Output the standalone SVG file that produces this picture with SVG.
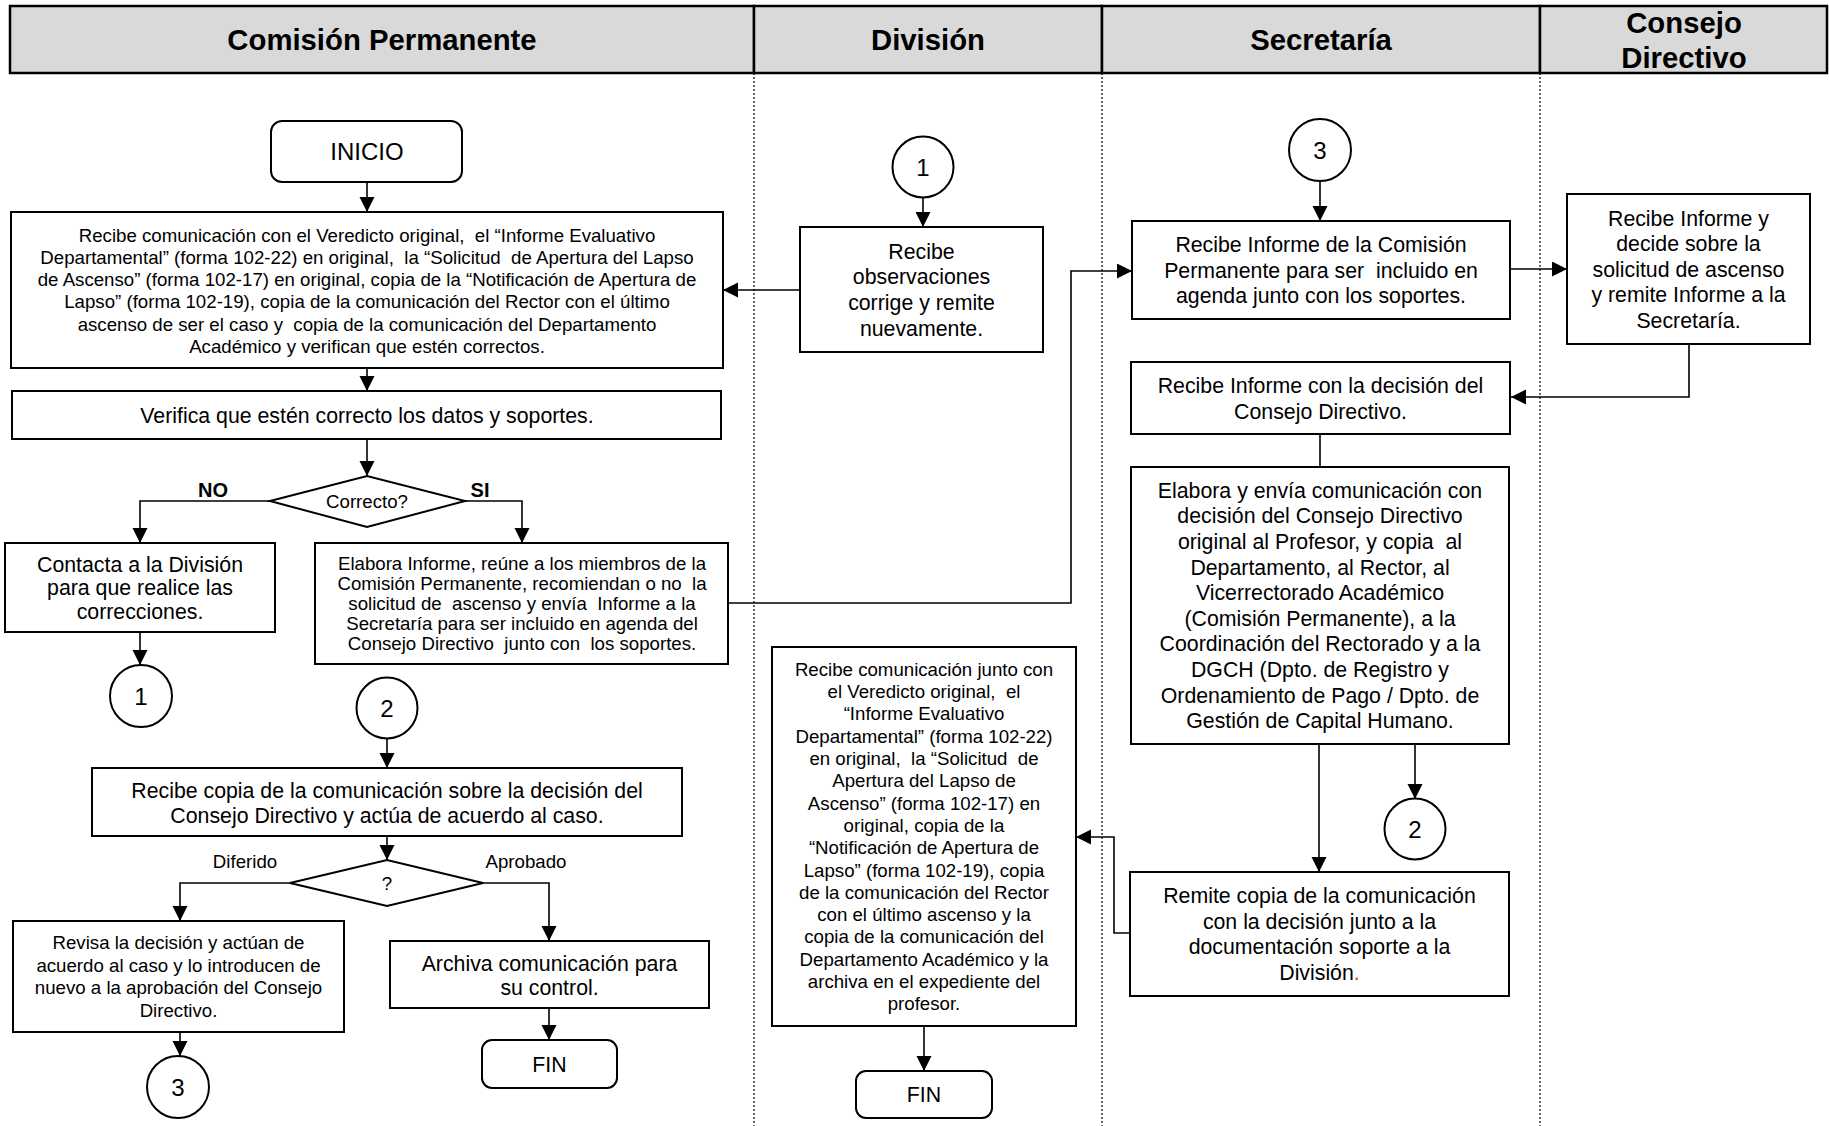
<svg xmlns="http://www.w3.org/2000/svg" width="1829" height="1126" viewBox="0 0 1829 1126">
<style>
text{font-family:"Liberation Sans",Arial,sans-serif;fill:#000;text-anchor:middle;white-space:pre}
.h{font-size:29.3px;font-weight:bold}
.l{font-size:21.3px}
.n{font-size:24px}
.s{font-size:18.67px}
.b{font-size:20px;font-weight:bold}
.box{fill:#fff;stroke:#000;stroke-width:2}
.hd{fill:#d9d9d9;stroke:#000;stroke-width:2.5}
.lane{stroke:#000;stroke-width:1.2;stroke-dasharray:2 2;fill:none}
.c{fill:none;stroke:#000;stroke-width:1.6}
.a{marker-end:url(#ah)}
</style>
<defs>
<marker id="ah" markerUnits="userSpaceOnUse" markerWidth="16" markerHeight="16" refX="15" refY="7.5" orient="auto">
<path d="M0,0 L15,7.5 L0,15 z" fill="#000"/>
</marker>
</defs>
<rect width="1829" height="1126" fill="#fff"/>
<g id="header">
<rect class="hd" x="10" y="6" width="744" height="67"/>
<rect class="hd" x="754" y="6" width="348" height="67"/>
<rect class="hd" x="1102" y="6" width="438" height="67"/>
<rect class="hd" x="1540" y="6" width="287" height="67"/>
<text class="h" x="382" y="50">Comisión Permanente</text>
<text class="h" x="928" y="50">División</text>
<text class="h" x="1321" y="50">Secretaría</text>
<text class="h" x="1684" y="33">Consejo</text>
<text class="h" x="1684" y="68">Directivo</text>
</g>
<g id="lanes">
<line class="lane" x1="754" y1="73" x2="754" y2="1126"/>
<line class="lane" x1="1102" y1="73" x2="1102" y2="1126"/>
<line class="lane" x1="1540" y1="73" x2="1540" y2="1126"/>
</g>
<g id="connectors">
<path class="c a" d="M367,182 V212"/>
<path class="c a" d="M367,368 V391"/>
<path class="c a" d="M367,439 V476"/>
<path class="c a" d="M270,501 H140 V543"/>
<path class="c a" d="M465,501 H522 V543"/>
<path class="c a" d="M140,632 V665"/>
<path class="c a" d="M728,603 H1071 V271 H1132"/>
<path class="c a" d="M1320,181 V221"/>
<path class="c a" d="M1510,269 H1567"/>
<path class="c a" d="M1689,344 V397 H1511"/>
<path class="c" d="M1320,434 V467"/>
<path class="c a" d="M1319,744 V872"/>
<path class="c a" d="M1415,744 V799"/>
<path class="c a" d="M1130,933 H1114 V837 H1076"/>
<path class="c a" d="M924,1026 V1071"/>
<path class="c a" d="M923,198 V227"/>
<path class="c a" d="M800,290 H723"/>
<path class="c a" d="M387,738 V768"/>
<path class="c a" d="M387,836 V860"/>
<path class="c a" d="M290,883 H180 V921"/>
<path class="c a" d="M483,883 H549 V941"/>
<path class="c a" d="M180,1032 V1056"/>
<path class="c a" d="M549,1008 V1040"/>
</g>
<g id="inicio">
<rect class="box" x="271" y="121" width="191" height="61" rx="11"/>
<text class="n" x="367" y="160">INICIO</text>
</g>
<g id="recibe-comunicacion">
<rect class="box" x="11" y="212" width="712" height="156"/>
<text class="s" x="367" y="241.5">Recibe comunicación con el Veredicto original,  el “Informe Evaluativo</text>
<text class="s" x="367" y="263.8">Departamental” (forma 102-22) en original,  la “Solicitud  de Apertura del Lapso</text>
<text class="s" x="367" y="286.1">de Ascenso” (forma 102-17) en original, copia de la “Notificación de Apertura de</text>
<text class="s" x="367" y="308.4">Lapso” (forma 102-19), copia de la comunicación del Rector con el último</text>
<text class="s" x="367" y="330.7">ascenso de ser el caso y  copia de la comunicación del Departamento</text>
<text class="s" x="367" y="353">Académico y verifican que estén correctos.</text>
</g>
<g id="verifica">
<rect class="box" x="12" y="391" width="709" height="48"/>
<text class="l" x="367" y="422.5">Verifica que estén correcto los datos y soportes.</text>
</g>
<g id="correcto">
<path class="box" d="M270,501 L367,476 L465,501 L367,527 Z"/>
<text class="s" x="367" y="508">Correcto?</text>
<text class="b" x="213" y="497">NO</text>
<text class="b" x="480" y="497">SI</text>
</g>
<g id="contacta">
<rect class="box" x="5" y="543" width="270" height="89"/>
<text class="l" x="140" y="571.5">Contacta a la División</text>
<text class="l" x="140" y="595">para que realice las</text>
<text class="l" x="140" y="618.5">correcciones.</text>
</g>
<g id="conector-1a">
<circle class="box" cx="141" cy="696" r="31"/>
<text class="n" x="141" y="704.5">1</text>
</g>
<g id="elabora-informe">
<rect class="box" x="315" y="543" width="413" height="121"/>
<text class="s" x="522" y="570.4">Elabora Informe, reúne a los miembros de la</text>
<text class="s" x="522" y="590.2">Comisión Permanente, recomiendan o no  la</text>
<text class="s" x="522" y="610">solicitud de  ascenso y envía  Informe a la</text>
<text class="s" x="522" y="629.8">Secretaría para ser incluido en agenda del</text>
<text class="s" x="522" y="649.6">Consejo Directivo  junto con  los soportes.</text>
</g>
<g id="conector-2a">
<circle class="box" cx="387" cy="708" r="30.5"/>
<text class="n" x="387" y="716.5">2</text>
</g>
<g id="recibe-copia">
<rect class="box" x="92" y="768" width="590" height="68"/>
<text class="l" x="387" y="797.5">Recibe copia de la comunicación sobre la decisión del</text>
<text class="l" x="387" y="822.5">Consejo Directivo y actúa de acuerdo al caso.</text>
</g>
<g id="decision">
<path class="box" d="M290,883 L387,860 L483,883 L387,906 Z"/>
<text class="s" x="387" y="889.5">?</text>
<text class="s" x="245" y="868">Diferido</text>
<text class="s" x="526" y="868">Aprobado</text>
</g>
<g id="revisa">
<rect class="box" x="13" y="921" width="331" height="111"/>
<text class="s" x="178.5" y="949.2">Revisa la decisión y actúan de</text>
<text class="s" x="178.5" y="971.7">acuerdo al caso y lo introducen de</text>
<text class="s" x="178.5" y="994.2">nuevo a la aprobación del Consejo</text>
<text class="s" x="178.5" y="1016.7">Directivo.</text>
</g>
<g id="conector-3a">
<circle class="box" cx="178" cy="1087" r="31"/>
<text class="n" x="178" y="1095.5">3</text>
</g>
<g id="archiva">
<rect class="box" x="390" y="941" width="319" height="67"/>
<text class="l" x="549.5" y="970.5">Archiva comunicación para</text>
<text class="l" x="549.5" y="994.5">su control.</text>
</g>
<g id="fin-1">
<rect class="box" x="482" y="1040" width="135" height="48" rx="10"/>
<text class="l" x="549.5" y="1071.5">FIN</text>
</g>
<g id="conector-1b">
<circle class="box" cx="923" cy="167" r="30.5"/>
<text class="n" x="923" y="175.5">1</text>
</g>
<g id="recibe-observaciones">
<rect class="box" x="800" y="227" width="243" height="125"/>
<text class="l" x="921.5" y="258.5">Recibe</text>
<text class="l" x="921.5" y="284.2">observaciones</text>
<text class="l" x="921.5" y="309.8">corrige y remite</text>
<text class="l" x="921.5" y="335.5">nuevamente.</text>
</g>
<g id="division-archiva">
<rect class="box" x="772" y="647" width="304" height="379"/>
<text class="s" x="924" y="675.8">Recibe comunicación junto con</text>
<text class="s" x="924" y="698.1">el Veredicto original,  el</text>
<text class="s" x="924" y="720.4">“Informe Evaluativo</text>
<text class="s" x="924" y="742.7">Departamental” (forma 102-22)</text>
<text class="s" x="924" y="765">en original,  la “Solicitud  de</text>
<text class="s" x="924" y="787.3">Apertura del Lapso de</text>
<text class="s" x="924" y="809.6">Ascenso” (forma 102-17) en</text>
<text class="s" x="924" y="831.9">original, copia de la</text>
<text class="s" x="924" y="854.2">“Notificación de Apertura de</text>
<text class="s" x="924" y="876.5">Lapso” (forma 102-19), copia</text>
<text class="s" x="924" y="898.8">de la comunicación del Rector</text>
<text class="s" x="924" y="921.1">con el último ascenso y la</text>
<text class="s" x="924" y="943.4">copia de la comunicación del</text>
<text class="s" x="924" y="965.7">Departamento Académico y la</text>
<text class="s" x="924" y="988">archiva en el expediente del</text>
<text class="s" x="924" y="1010.3">profesor.</text>
</g>
<g id="fin-2">
<rect class="box" x="856" y="1071" width="136" height="47" rx="10"/>
<text class="l" x="924" y="1102">FIN</text>
</g>
<g id="conector-3b">
<circle class="box" cx="1320" cy="150" r="31"/>
<text class="n" x="1320" y="158.5">3</text>
</g>
<g id="recibe-informe-comision">
<rect class="box" x="1132" y="221" width="378" height="98"/>
<text class="l" x="1321" y="252">Recibe Informe de la Comisión</text>
<text class="l" x="1321" y="277.5">Permanente para ser  incluido en</text>
<text class="l" x="1321" y="303">agenda junto con los soportes.</text>
</g>
<g id="consejo-decide">
<rect class="box" x="1567" y="194" width="243" height="150"/>
<text class="l" x="1688.5" y="225.5">Recibe Informe y</text>
<text class="l" x="1688.5" y="251">decide sobre la</text>
<text class="l" x="1688.5" y="276.5">solicitud de ascenso</text>
<text class="l" x="1688.5" y="302">y remite Informe a la</text>
<text class="l" x="1688.5" y="327.5">Secretaría.</text>
</g>
<g id="recibe-informe-decision">
<rect class="box" x="1131" y="362" width="379" height="72"/>
<text class="l" x="1320.5" y="393">Recibe Informe con la decisión del</text>
<text class="l" x="1320.5" y="418.5">Consejo Directivo.</text>
</g>
<g id="elabora-envia">
<rect class="box" x="1131" y="467" width="378" height="277"/>
<text class="l" x="1320" y="497.8">Elabora y envía comunicación con</text>
<text class="l" x="1320" y="523.4">decisión del Consejo Directivo</text>
<text class="l" x="1320" y="549">original al Profesor, y copia  al</text>
<text class="l" x="1320" y="574.6">Departamento, al Rector, al</text>
<text class="l" x="1320" y="600.2">Vicerrectorado Académico</text>
<text class="l" x="1320" y="625.8">(Comisión Permanente), a la</text>
<text class="l" x="1320" y="651.4">Coordinación del Rectorado y a la</text>
<text class="l" x="1320" y="677">DGCH (Dpto. de Registro y</text>
<text class="l" x="1320" y="702.6">Ordenamiento de Pago / Dpto. de</text>
<text class="l" x="1320" y="728.2">Gestión de Capital Humano.</text>
</g>
<g id="conector-2b">
<circle class="box" cx="1415" cy="829" r="30.5"/>
<text class="n" x="1415" y="837.5">2</text>
</g>
<g id="remite-copia">
<rect class="box" x="1130" y="872" width="379" height="124"/>
<text class="l" x="1319.5" y="903">Remite copia de la comunicación</text>
<text class="l" x="1319.5" y="928.6">con la decisión junto a la</text>
<text class="l" x="1319.5" y="954.2">documentación soporte a la</text>
<text class="l" x="1319.5" y="979.8">División<tspan fill="#e03020">.</tspan></text>
</g>
</svg>
